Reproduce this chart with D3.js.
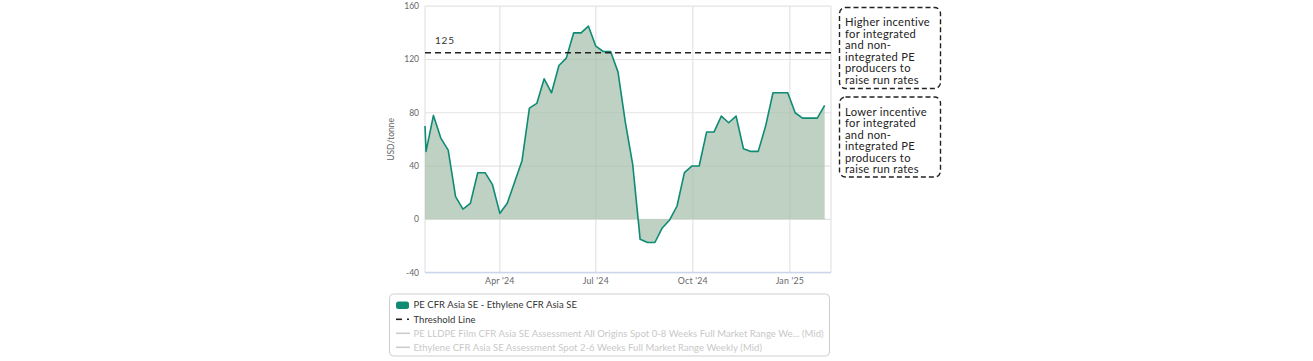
<!DOCTYPE html>
<html>
<head>
<meta charset="utf-8">
<script src="https://cdn.jsdelivr.net/npm/d3@7"></script>
<style>
  html, body { margin: 0; padding: 0; background: #fff; }
  svg { display: block; font-family: Lato, "Open Sans", sans-serif; }
</style>
</head>
<body>
<svg id="chart" width="1313" height="361"></svg>
<script>
// ---- data ----
const dates = [
  "2024-01-21","2024-01-22","2024-01-29","2024-02-05","2024-02-12","2024-02-19","2024-02-26",
  "2024-03-04","2024-03-11","2024-03-18","2024-03-25","2024-04-01","2024-04-08","2024-04-15",
  "2024-04-22","2024-04-29","2024-05-06","2024-05-13","2024-05-20","2024-05-27","2024-06-03",
  "2024-06-10","2024-06-17","2024-06-24","2024-07-01","2024-07-08","2024-07-15","2024-07-22",
  "2024-07-29","2024-08-05","2024-08-12","2024-08-19","2024-08-26","2024-09-02","2024-09-09",
  "2024-09-16","2024-09-23","2024-09-30","2024-10-07","2024-10-14","2024-10-21","2024-10-28",
  "2024-11-04","2024-11-11","2024-11-18","2024-11-25","2024-12-02","2024-12-09","2024-12-16",
  "2024-12-23","2024-12-30","2025-01-06","2025-01-13","2025-01-20","2025-01-27","2025-02-03"
];
const spread = [
  70, 51, 78, 61, 52, 17, 7.7,
  12, 35, 35, 26, 4.5, 12, 28,
  44, 83.5, 87, 105.5, 95, 115.5, 121,
  140, 140, 145, 130, 126, 126, 110.7,
  72.7, 41, -15, -17.4, -17.4, -6.5, -0.5,
  10, 35, 40, 40, 65.5, 65.5, 77.5,
  72.5, 77.5, 53, 51, 51, 70, 95,
  95, 95, 80, 76, 76, 76, 85.5
];
const threshold = 125;
const yTicks = [-40, 0, 40, 80, 120, 160];
const xTickDates = ["2024-04-01", "2024-07-01", "2024-10-01", "2025-01-01"];
const xTickLabels = ["Apr '24", "Jul '24", "Oct '24", "Jan '25"];
const yTitle = "USD/tonne";
const legendLabels = [
  "PE CFR Asia SE - Ethylene CFR Asia SE",
  "Threshold Line",
  "PE LLDPE Film CFR Asia SE Assessment All Origins Spot 0-8 Weeks Full Market Range We... (Mid)",
  "Ethylene CFR Asia SE Assessment Spot 2-6 Weeks Full Market Range Weekly (Mid)"
];
const noteHigh = ["Higher incentive", "for integrated", "and non-", "integrated PE", "producers to", "raise run rates"];
const noteLow = ["Lower incentive", "for integrated", "and non-", "integrated PE", "producers to", "raise run rates"];

// ---- layout ----
const svg = d3.select("#chart");
const parse = d3.utcParse("%Y-%m-%d");
const data = dates.map((d, i) => ({ date: parse(d), v: spread[i] }));
const L = 425, R = 831, T = 6.2, B = 272.6;

const x = d3.scaleUtc().domain([parse("2024-01-21"), parse("2025-02-09")]).range([L, R]);
const y = d3.scaleLinear().domain([-40, 160]).range([B, T]);

// gridlines
const g = svg.append("g");
g.selectAll(".hg").data(yTicks).join("line")
  .attr("x1", L).attr("x2", R).attr("y1", d => y(d)).attr("y2", d => y(d))
  .attr("stroke", "#e3e3e3").attr("stroke-width", 1.2);
g.selectAll(".vg").data(xTickDates).join("line")
  .attr("x1", d => x(parse(d))).attr("x2", d => x(parse(d))).attr("y1", T).attr("y2", B)
  .attr("stroke", "#e3e3e3").attr("stroke-width", 1.2);
g.append("line").attr("x1", L).attr("x2", L).attr("y1", T).attr("y2", B).attr("stroke", "#e3e3e3").attr("stroke-width", 1.2);
g.append("line").attr("x1", R).attr("x2", R).attr("y1", T).attr("y2", B).attr("stroke", "#e3e3e3").attr("stroke-width", 1.2);

// area
const area = d3.area().x(d => x(d.date)).y0(y(0)).y1(d => y(d.v));
svg.append("path").datum(data).attr("d", area)
  .attr("fill", "#a3bea8").attr("fill-opacity", 0.7);
const line = d3.line().x(d => x(d.date)).y(d => y(d.v));
svg.append("path").datum(data).attr("d", line)
  .attr("fill", "none").attr("stroke", "#0f8b74").attr("stroke-width", 1.6)
  .attr("stroke-linejoin", "round");

// bottom axis line
svg.append("line").attr("x1", L).attr("x2", R).attr("y1", B).attr("y2", B)
  .attr("stroke", "#ccd6eb").attr("stroke-width", 1.5);

// threshold
svg.append("line").attr("x1", L).attr("x2", R).attr("y1", y(threshold)).attr("y2", y(threshold))
  .attr("stroke", "#222").attr("stroke-width", 1.6).attr("stroke-dasharray", "6,4");
svg.append("text").attr("x", 435).attr("y", 43.5).text(String(threshold))
  .attr("font-size", 10).attr("fill", "#333").attr("letter-spacing", 0.8);

// y tick labels
svg.append("g").selectAll("text").data(yTicks).join("text")
  .attr("x", 419).attr("y", d => y(d) + 3).attr("text-anchor", "end")
  .attr("font-size", 8.5).attr("fill", "#666").text(d => d);

// x tick labels
svg.append("g").selectAll("text").data(xTickDates).join("text")
  .attr("x", d => x(parse(d))).attr("y", 284).attr("text-anchor", "middle")
  .attr("font-size", 8.8).attr("fill", "#666").attr("letter-spacing", 0.2).text((d, i) => xTickLabels[i]);

// y title
svg.append("text").attr("transform", `translate(394,${(T + B) / 2}) rotate(-90)`)
  .attr("text-anchor", "middle").attr("font-size", 8.5).attr("fill", "#666").text(yTitle);

// annotation boxes
function note(lines, y0, y1) {
  svg.append("rect").attr("x", 839.5).attr("y", y0).attr("width", 101).attr("height", y1 - y0)
    .attr("rx", 6).attr("fill", "none").attr("stroke", "#222").attr("stroke-width", 1.4)
    .attr("stroke-dasharray", "5,3");
  svg.append("g").selectAll("text").data(lines).join("text")
    .attr("x", 845).attr("y", (d, i) => y0 + 18.5 + i * 11.5)
    .attr("font-size", 11.2).attr("letter-spacing", 0.3).attr("fill", "#222").text(d => d);
}
note(noteHigh, 7.5, 88.5);
note(noteLow, 97, 177);

// legend
const lg = svg.append("g");
lg.append("rect").attr("x", 389.5).attr("y", 294).attr("width", 440).attr("height", 62)
  .attr("rx", 4).attr("fill", "#fff").attr("stroke", "#cfcfcf").attr("stroke-width", 1);
const rowY = [305, 319.3, 333.3, 347.3];
lg.append("rect").attr("x", 396).attr("y", 301.5).attr("width", 13).attr("height", 7.5).attr("rx", 2.5)
  .attr("fill", "#0f8b74");
lg.append("line").attr("x1", 396).attr("x2", 402).attr("y1", rowY[1]).attr("y2", rowY[1])
  .attr("stroke", "#222").attr("stroke-width", 1.6);
lg.append("line").attr("x1", 407).attr("x2", 409).attr("y1", rowY[1]).attr("y2", rowY[1])
  .attr("stroke", "#222").attr("stroke-width", 1.6);
[2, 3].forEach(i => {
  lg.append("line").attr("x1", 396).attr("x2", 410).attr("y1", rowY[i]).attr("y2", rowY[i])
    .attr("stroke", "#cccccc").attr("stroke-width", 1.6);
});
lg.selectAll(".lt").data(legendLabels).join("text")
  .attr("x", 413.5).attr("y", (d, i) => rowY[i] + 3.2)
  .attr("font-size", 9.5).attr("letter-spacing", 0.05)
  .attr("fill", (d, i) => i < 2 ? "#333" : "#c8c8c8").text(d => d);
</script>
</body>
</html>
